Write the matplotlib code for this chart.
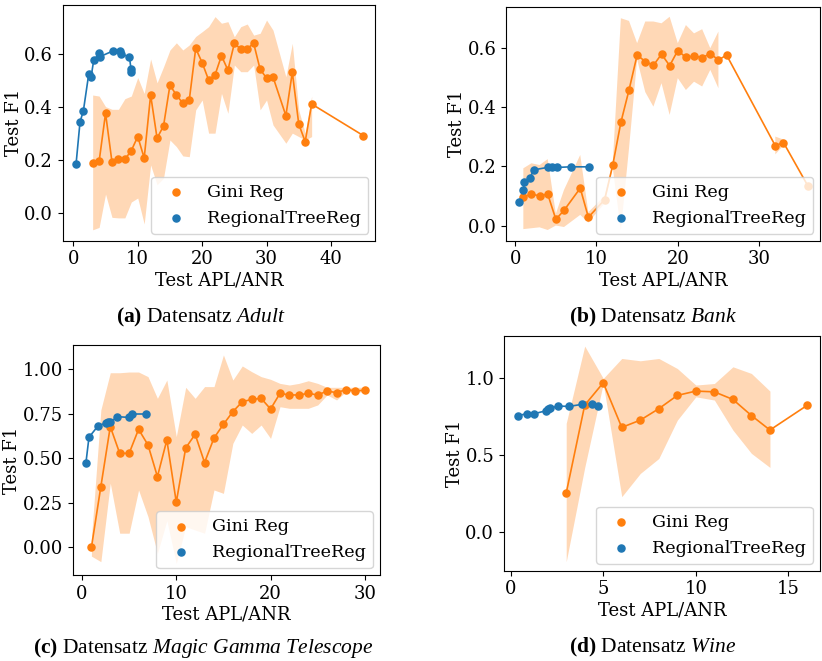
import numpy as np
import matplotlib
matplotlib.use("Agg")
import matplotlib.pyplot as plt
from matplotlib.ticker import MultipleLocator

nan = np.nan

# (a) Adult
a_reg_x = [0.42, 1.04, 1.55, 2.39, 2.75, 3.16, 3.99, 4.15, 6.12, 7.2, 7.36, 8.7, 8.96, 9.0]
a_reg_y = [0.183, 0.343, 0.383, 0.523, 0.511, 0.575, 0.601, 0.589, 0.610, 0.610, 0.598, 0.589, 0.541, 0.532]
a_gini_x = [3, 4, 5, 6, 7, 8, 9, 10, 11, 12, 13, 14, 15, 16, 17, 18, 19, 20, 21, 22, 23, 24, 25,
            26, 27, 28, 29, 30, 31, 33, 34, 35, 36, 37, 45]
a_gini_y = [0.189, 0.193, 0.375, 0.191, 0.201, 0.201, 0.234, 0.287, 0.206, 0.444, 0.281, 0.327,
            0.481, 0.444, 0.413, 0.425, 0.620, 0.566, 0.501, 0.520, 0.592, 0.538, 0.639, 0.617,
            0.619, 0.639, 0.541, 0.508, 0.512, 0.366, 0.530, 0.334, 0.268, 0.410, 0.291]
a_gini_hi = [0.444, 0.440, 0.40, 0.39, 0.39, 0.43, 0.44, 0.51, 0.45, 0.58, 0.49, 0.55, 0.614,
             0.641, 0.614, 0.633, 0.665, 0.683, 0.702, 0.740, 0.715, 0.721, 0.664, 0.702, 0.712,
             0.670, 0.677, 0.727, 0.689, 0.513, 0.639, 0.387, 0.30, 0.44, nan]
a_gini_lo = [-0.065, -0.056, 0.07, -0.018, -0.02, -0.02, 0.04, 0.055, -0.043, 0.18, 0.105, 0.13,
             0.274, 0.249, 0.214, 0.211, 0.388, 0.425, 0.300, 0.300, 0.450, 0.375, 0.557, 0.532,
             0.532, 0.557, 0.388, 0.425, 0.331, 0.262, 0.300, 0.287, 0.274, 0.287, nan]

# (b) Bank
b_reg_x = [0.51, 1.0, 1.12, 1.82, 2.31, 3.99, 4.52, 5.18, 6.82, 9.11]
b_reg_y = [0.080, 0.120, 0.148, 0.162, 0.188, 0.196, 0.197, 0.196, 0.198, 0.198]
b_gini_x = [1, 2, 3, 4, 5, 6, 8, 9, 11, 12, 13, 14, 15, 16, 17, 18, 19, 20, 21, 22, 23, 24, 25,
            26, 32, 33, 36]
b_gini_y = [0.096, 0.106, 0.100, 0.106, 0.021, 0.051, 0.126, 0.028, 0.087, 0.204, 0.348, 0.457,
            0.575, 0.553, 0.540, 0.578, 0.539, 0.590, 0.567, 0.572, 0.566, 0.580, 0.558, 0.575,
            0.269, 0.280, 0.134]
b_gini_hi = [0.193, 0.210, 0.204, 0.224, 0.04, 0.12, 0.238, 0.045, 0.10, 0.21, 0.699, 0.69, 0.615,
             0.688, 0.688, 0.682, 0.704, 0.615, 0.676, 0.648, 0.662, 0.598, 0.654, nan, 0.30,
             0.29, nan]
b_gini_lo = [-0.012, -0.009, -0.006, -0.015, 0.0, -0.005, 0.036, 0.01, 0.075, 0.195, -0.015, 0.26,
             0.56, 0.45, 0.401, 0.480, 0.373, 0.497, 0.457, 0.485, 0.469, 0.525, 0.463, nan, 0.24,
             0.27, nan]

# (c) Magic Gamma Telescope
c_reg_x = [0.42, 0.74, 1.73, 2.54, 2.79, 3.0, 3.75, 4.95, 5.27, 6.82]
c_reg_y = [0.476, 0.618, 0.684, 0.697, 0.702, 0.702, 0.734, 0.730, 0.749, 0.749]
c_gini_x = list(range(1, 31))
c_gini_y = [0.0, 0.341, 0.678, 0.528, 0.528, 0.663, 0.575, 0.397, 0.603, 0.253, 0.558, 0.635,
            0.476, 0.614, 0.691, 0.762, 0.818, 0.831, 0.837, 0.777, 0.865, 0.856, 0.856, 0.865,
            0.856, 0.878, 0.869, 0.886, 0.880, 0.882]
c_gini_hi = [0.05, 0.772, 0.981, 0.981, 0.985, 0.985, 0.959, 0.837, 0.940, 0.622, 0.899, 0.837,
             0.903, 0.903, 1.081, 0.940, 1.019, 0.987, 0.959, 0.944, 0.921, 0.912, 0.921, 0.936,
             0.921, 0.899, 0.899, 0.899, 0.899, 0.899]
c_gini_lo = [-0.05, -0.081, 0.360, 0.079, 0.079, 0.322, 0.172, -0.034, 0.15, -0.090, 0.116, 0.097,
             0.079, 0.322, 0.303, 0.584, 0.687, 0.640, 0.687, 0.612, 0.790, 0.781, 0.781, 0.781,
             0.800, 0.856, 0.828, 0.875, 0.875, 0.870]

# (d) Wine
d_reg_x = [0.41, 0.86, 1.24, 1.93, 2.03, 2.14, 2.56, 3.17, 3.84, 4.41, 4.70]
d_reg_y = [0.756, 0.767, 0.767, 0.787, 0.795, 0.804, 0.817, 0.815, 0.828, 0.828, 0.819]
d_gini_x = [3, 4, 5, 6, 7, 8, 9, 10, 11, 12, 13, 14, 16]
d_gini_y = [0.254, 0.823, 0.968, 0.679, 0.726, 0.800, 0.886, 0.914, 0.909, 0.860, 0.756, 0.662, 0.821]
d_gini_hi = [0.705, 1.205, 0.996, 1.125, 1.110, 1.125, 1.060, 0.953, 0.963, 1.071, 1.028, 0.914, nan]
d_gini_lo = [-0.190, 0.42, 0.963, 0.231, 0.381, 0.478, 0.726, 0.877, 0.856, 0.662, 0.511, 0.420, nan]

plt.rcParams['font.family'] = 'DejaVu Serif'
plt.rcParams['font.size'] = 13
plt.rcParams['mathtext.fontset'] = 'custom'
plt.rcParams['mathtext.rm'] = 'Liberation Serif'
plt.rcParams['mathtext.it'] = 'Liberation Serif:italic'
plt.rcParams['mathtext.bf'] = 'Liberation Serif:bold'

fig = plt.figure(figsize=(8.22, 6.61), dpi=100)

panels = [
    ([0.0763, 0.6359, 0.380, 0.3566], a_reg_x, a_reg_y, a_gini_x, a_gini_y, a_gini_hi, a_gini_lo,
     (-1.65, 46.85), (-0.106, 0.784), 0.2),
    ([0.6156, 0.6359, 0.382, 0.354], b_reg_x, b_reg_y, b_gini_x, b_gini_y, b_gini_hi, b_gini_lo,
     (-1.13, 37.5), (-0.051, 0.738), 0.2),
    ([0.0884, 0.1301, 0.3738, 0.348], c_reg_x, c_reg_y, c_gini_x, c_gini_y, c_gini_hi, c_gini_lo,
     (-0.99, 31.6), (-0.156, 1.137), 0.25),
    ([0.6131, 0.1366, 0.3844, 0.355], d_reg_x, d_reg_y, d_gini_x, d_gini_y, d_gini_hi, d_gini_lo,
     (-0.36, 16.7), (-0.248, 1.27), 0.5),
]

orange = '#ff7f0e'
blue = '#1f77b4'

for rect, rx, ry, gx, gy, ghi, glo, xl, yl, ystep in panels:
    ax = fig.add_axes(rect)
    ax.fill_between(gx, glo, ghi, color=orange, alpha=0.3, linewidth=0)
    ax.plot(gx, gy, color=orange, lw=1.2)
    ax.scatter(gx, gy, color=orange, s=26, zorder=3, label='Gini Reg')
    ax.plot(rx, ry, color=blue, lw=1.2)
    ax.scatter(rx, ry, color=blue, s=26, zorder=3, label='RegionalTreeReg')
    ax.set_xlim(xl)
    ax.set_ylim(yl)
    ax.yaxis.set_major_locator(MultipleLocator(ystep))
    ax.set_xlabel('Test APL/ANR', labelpad=2)
    ax.set_ylabel('Test F1', labelpad=1)
    ax.legend(loc='lower right', fontsize=12.6, borderaxespad=0.4)

fig.text(0.2445, 0.519, r'$\mathbf{(a)}$ Datensatz $\mathit{Adult}$',
         family='Liberation Serif', fontsize=15.5, ha='center', va='center')
fig.text(0.794, 0.519, r'$\mathbf{(b)}$ Datensatz $\mathit{Bank}$',
         family='Liberation Serif', fontsize=15.5, ha='center', va='center')
fig.text(0.247, 0.0197, r'$\mathbf{(c)}$ Datensatz $\mathit{Magic\ Gamma\ Telescope}$',
         family='Liberation Serif', fontsize=15.5, ha='center', va='center')
fig.text(0.794, 0.0197, r'$\mathbf{(d)}$ Datensatz $\mathit{Wine}$',
         family='Liberation Serif', fontsize=15.5, ha='center', va='center')

fig.savefig('out.png', dpi=100)
